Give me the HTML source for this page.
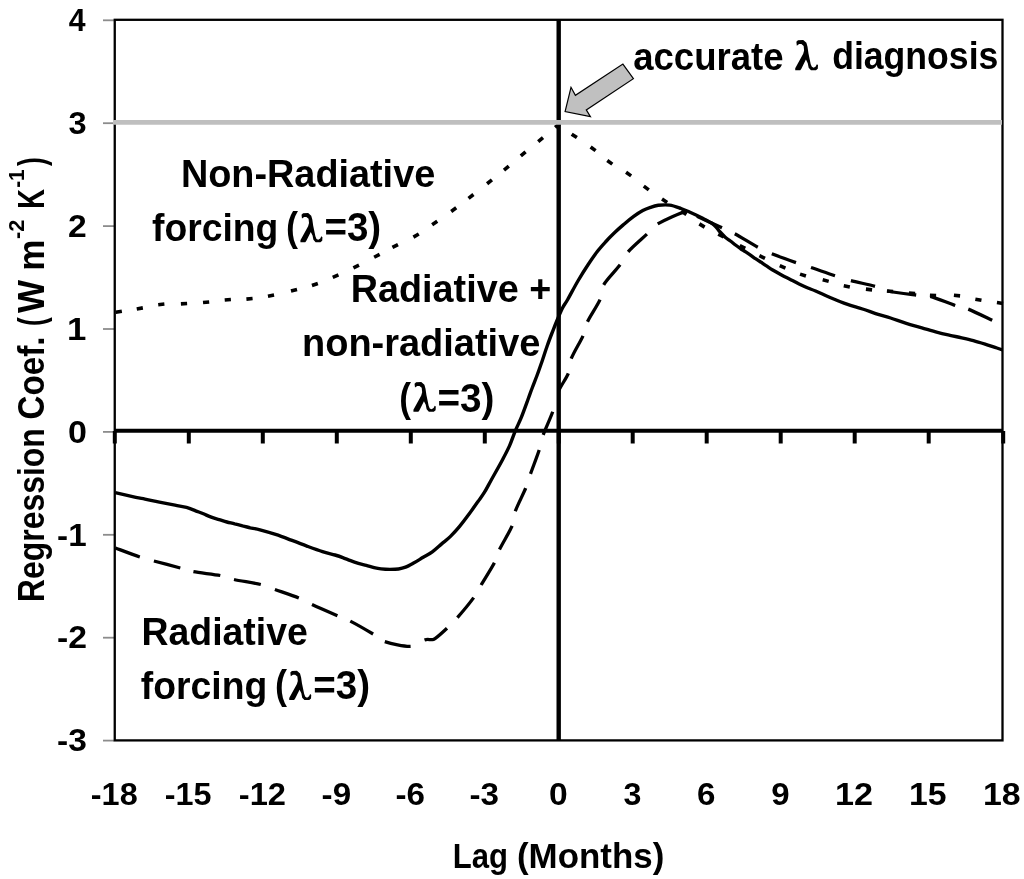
<!DOCTYPE html><html><head><meta charset="utf-8"><style>html,body{margin:0;padding:0;background:#fff;}svg{display:block;will-change:transform;}text{font-family:"Liberation Sans",sans-serif;font-weight:bold;fill:#000;font-kerning:none;font-variant-ligatures:none;}.sym{font-family:"Liberation Serif",serif;font-weight:normal;}</style></head><body>
<svg width="1024" height="879" viewBox="0 0 1024 879">
<rect x="0" y="0" width="1024" height="879" fill="#fff"/>
<defs><path id="lam" d="M1.63,-24.30 L1.17,-28.17 L2.77,-29.77 L8.00,-29.99 L11.19,-27.26 L12.32,-23.17 L13.23,-16.79 L14.37,-11.33 L15.51,-5.87 L16.65,-3.14 L18.47,-2.23 L20.52,-3.59 L21.65,-5.87 L22.79,-4.96 L22.57,-1.32 L20.74,0.28 L15.74,0.28 L13.46,-2.23 L12.55,-6.78 L10.73,-10.42 L6.18,-1.32 L5.04,0.28 L0.03,0.28 L0.03,-1.77 L8.00,-16.34 L8.91,-19.52 L8.45,-24.08 L6.18,-25.90 L3.90,-25.90 Z" fill="#000"/></defs>
<line x1="103" y1="740.6" x2="114" y2="740.6" stroke="#8c8c8c" stroke-width="1.8"/>
<line x1="103" y1="637.7" x2="114" y2="637.7" stroke="#8c8c8c" stroke-width="1.8"/>
<line x1="103" y1="534.8" x2="114" y2="534.8" stroke="#8c8c8c" stroke-width="1.8"/>
<line x1="103" y1="431.9" x2="114" y2="431.9" stroke="#8c8c8c" stroke-width="1.8"/>
<line x1="103" y1="329.0" x2="114" y2="329.0" stroke="#8c8c8c" stroke-width="1.8"/>
<line x1="103" y1="226.1" x2="114" y2="226.1" stroke="#8c8c8c" stroke-width="1.8"/>
<line x1="103" y1="123.2" x2="114" y2="123.2" stroke="#8c8c8c" stroke-width="1.8"/>
<line x1="103" y1="20.3" x2="114" y2="20.3" stroke="#8c8c8c" stroke-width="1.8"/>
<rect x="114.75" y="19.8" width="887.75" height="720.6" fill="none" stroke="#000" stroke-width="2.3"/>
<line x1="114" y1="430.8" x2="1003" y2="430.8" stroke="#000" stroke-width="4"/>
<line x1="558.7" y1="19" x2="558.7" y2="741" stroke="#000" stroke-width="4.4"/>
<line x1="114.8" y1="431" x2="114.8" y2="443.5" stroke="#000" stroke-width="4"/>
<line x1="188.8" y1="431" x2="188.8" y2="443.5" stroke="#000" stroke-width="4"/>
<line x1="262.8" y1="431" x2="262.8" y2="443.5" stroke="#000" stroke-width="4"/>
<line x1="336.8" y1="431" x2="336.8" y2="443.5" stroke="#000" stroke-width="4"/>
<line x1="410.8" y1="431" x2="410.8" y2="443.5" stroke="#000" stroke-width="4"/>
<line x1="484.8" y1="431" x2="484.8" y2="443.5" stroke="#000" stroke-width="4"/>
<line x1="558.8" y1="431" x2="558.8" y2="443.5" stroke="#000" stroke-width="4"/>
<line x1="632.7" y1="431" x2="632.7" y2="443.5" stroke="#000" stroke-width="4"/>
<line x1="706.7" y1="431" x2="706.7" y2="443.5" stroke="#000" stroke-width="4"/>
<line x1="780.7" y1="431" x2="780.7" y2="443.5" stroke="#000" stroke-width="4"/>
<line x1="854.7" y1="431" x2="854.7" y2="443.5" stroke="#000" stroke-width="4"/>
<line x1="928.7" y1="431" x2="928.7" y2="443.5" stroke="#000" stroke-width="4"/>
<line x1="1003.2" y1="431" x2="1003.2" y2="443.5" stroke="#000" stroke-width="4"/>
<path d="M115.74,312.30 L121.86,311.30 M136.75,308.93 L142.85,307.87 M158.22,304.73 L164.38,304.07 M180.90,303.85 L187.10,303.55 M203.01,302.58 L209.19,302.02 M224.71,299.95 L230.89,299.45 M246.41,299.09 L252.59,298.51 M267.96,296.19 L274.04,295.01 M290.99,290.96 L297.01,289.44 M311.96,285.50 L317.84,283.50 M332.76,277.33 L338.44,274.87 M353.42,267.97 L358.98,265.23 M374.16,257.25 L379.64,254.35 M392.44,247.42 L397.96,244.58 M413.42,237.16 L418.78,234.04 M432.15,224.76 L437.25,221.24 M451.20,211.43 L456.20,207.77 M468.55,198.30 L473.45,194.50 M487.08,183.73 L491.92,179.87 M504.01,170.18 L508.79,166.22 M520.82,155.89 L525.58,151.91 M538.21,141.58 L542.99,137.62 M555.12,127.49 L559.88,123.51 M571.71,134.20 L576.89,137.60 M590.61,146.95 L595.59,150.65 M607.28,160.50 L612.32,164.10 M626.07,172.32 L631.13,175.88 M643.81,186.15 L648.79,189.85 M662.01,199.09 L667.19,202.51 M681.21,211.09 L686.39,214.51 M699.35,223.89 L704.65,227.11 M718.26,234.05 L723.74,236.95 M739.75,245.56 L745.25,248.44 M759.42,255.73 L764.98,258.47 M779.76,265.55 L785.44,268.05 M800.05,274.15 L805.95,276.05 M822.70,279.83 L828.70,281.37 M843.76,285.68 L849.84,286.92 M865.92,289.15 L872.08,289.85 M886.91,290.93 L893.09,291.47 M908.91,293.00 L915.09,293.60 M929.90,295.24 L936.10,295.56 M953.91,295.30 L960.09,295.90 M975.34,299.27 L981.46,300.33 M996.93,302.55 L1003.07,303.45" fill="none" stroke="#000" stroke-width="3.6"/>
<path d="M115.40,548.00 C119.47,549.50 133.38,554.83 139.80,557.00 M153.90,561.00 C160.65,562.83 173.72,566.22 180.30,568.00 M193.40,571.70 C200.07,572.95 213.53,574.20 220.30,575.50 M234.00,579.50 C240.75,581.00 253.98,582.83 260.80,584.50 M274.90,589.50 C281.23,591.75 292.62,595.50 298.80,598.00 M312.00,604.50 C318.43,607.45 331.02,612.93 337.40,615.70 M350.30,621.10 C356.25,624.15 367.35,630.58 373.10,634.00 M384.80,641.60 C391.05,643.65 403.98,646.57 410.60,646.30 M424.50,640.00 C427.90,638.88 429.25,639.83 431.00,639.60 M431.00,639.60 C432.75,639.37 432.33,640.50 435.00,638.60 M435.00,638.60 C437.67,636.70 443.27,631.70 447.00,628.20 M457.40,617.60 C461.85,612.50 469.75,603.03 473.70,597.60 M481.10,585.00 C484.55,579.20 491.33,568.72 494.40,562.80 M499.50,549.50 C502.45,543.35 509.47,532.28 512.10,525.90 M515.30,511.20 C517.57,504.92 523.17,494.42 525.70,488.20 M530.50,473.90 C532.75,467.53 537.08,456.50 539.20,450.00 M543.20,434.90 C545.45,428.53 550.13,419.08 552.70,411.80 M558.60,391.20 C561.20,384.80 566.20,378.82 568.30,373.40 M571.20,358.70 C573.65,352.43 580.28,341.97 583.00,335.80 M587.50,321.70 C590.33,315.67 597.30,305.75 600.00,299.60 M603.70,284.80 C607.05,279.00 616.03,270.30 620.10,264.80 M628.10,251.80 C632.57,246.68 641.97,238.75 646.90,234.10 M657.70,223.90 C664.33,220.12 680.15,212.67 686.70,211.40 M697.00,216.30 C702.88,219.03 715.70,224.90 722.00,227.80 M734.80,233.70 C740.77,236.93 751.63,243.85 757.80,247.20 M771.80,253.80 C778.17,256.37 789.47,260.32 796.00,262.60 M811.00,267.50 C817.50,269.68 828.35,273.52 835.00,275.70 M850.90,280.60 C857.57,282.37 868.93,284.57 875.00,286.30 M887.30,291.00 C894.17,292.45 909.03,294.12 916.20,295.00 M930.30,296.30 C936.80,298.05 948.87,303.37 955.20,305.50 M968.30,309.10 C974.47,311.57 988.22,318.43 992.20,320.30" fill="none" stroke="#000" stroke-width="3.3"/>
<path d="M115.2,492.6 C118.6,493.4 130.8,496.2 135.8,497.3 C140.8,498.4 141.1,498.3 145.0,499.1 C148.9,499.9 154.4,501.2 159.4,502.2 C164.4,503.2 170.5,504.3 175.0,505.2 C179.5,506.1 183.1,506.5 186.5,507.4 C189.9,508.3 192.8,509.7 195.6,510.8 C198.4,511.9 200.8,512.7 203.4,513.8 C206.0,514.9 208.7,516.2 211.3,517.2 C213.9,518.2 216.5,518.8 219.1,519.6 C221.7,520.4 224.3,521.3 226.9,522.0 C229.5,522.7 232.1,523.2 234.7,523.9 C237.3,524.5 239.9,525.2 242.5,525.9 C245.1,526.5 247.4,527.1 250.3,527.8 C253.2,528.4 255.8,528.7 260.0,529.8 C264.2,530.9 270.4,532.7 275.6,534.4 C280.8,536.1 286.1,538.2 291.3,540.2 C296.5,542.2 301.7,544.2 306.9,546.1 C312.1,548.0 317.8,550.1 322.5,551.6 C327.2,553.1 331.6,554.0 335.0,555.0 C338.4,556.0 340.2,556.6 342.8,557.6 C345.4,558.6 348.0,559.7 350.6,560.7 C353.2,561.7 355.8,562.6 358.4,563.4 C361.0,564.2 363.7,564.7 366.3,565.4 C368.9,566.1 371.7,567.0 374.1,567.6 C376.6,568.2 378.4,568.6 381.0,568.9 C383.6,569.2 387.1,569.4 390.0,569.4 C392.9,569.4 395.9,569.4 398.5,569.0 C401.1,568.6 402.9,568.2 405.5,567.2 C408.1,566.2 411.2,564.4 414.1,562.8 C417.1,561.1 420.2,559.1 423.2,557.3 C426.2,555.5 429.3,554.1 432.3,551.9 C435.3,549.7 438.4,546.7 441.4,544.1 C444.4,541.5 447.5,539.4 450.5,536.4 C453.5,533.4 456.6,530.0 459.6,526.4 C462.6,522.8 465.7,518.7 468.7,514.6 C471.7,510.5 475.2,505.5 477.8,501.8 C480.4,498.1 481.9,496.4 484.2,492.7 C486.5,489.0 488.3,485.3 491.4,479.7 C494.5,474.1 499.8,464.9 502.8,459.2 C505.8,453.5 507.5,450.3 509.6,445.6 C511.7,440.9 513.4,435.4 515.3,430.8 C517.2,426.2 518.9,423.3 521.0,418.2 C523.1,413.1 526.1,404.7 527.8,400.0 C529.5,395.3 529.9,394.1 531.4,390.0 C532.9,385.9 535.1,380.5 537.0,375.5 C538.9,370.5 540.8,364.8 542.5,360.0 C544.2,355.2 545.4,351.0 547.0,346.5 C548.6,342.0 550.3,337.3 552.0,333.0 C553.7,328.7 555.2,324.7 557.0,320.5 C558.8,316.3 560.7,311.5 562.5,308.0 C564.3,304.5 565.1,304.1 567.7,299.5 C570.3,294.9 574.8,286.3 578.2,280.5 C581.6,274.7 585.0,269.3 588.2,264.5 C591.4,259.7 594.3,255.4 597.3,251.5 C600.3,247.6 603.4,244.3 606.4,241.0 C609.4,237.7 612.5,234.7 615.5,231.8 C618.5,228.9 621.6,226.3 624.6,223.7 C627.6,221.1 630.7,218.6 633.7,216.4 C636.7,214.2 640.0,212.0 642.8,210.5 C645.6,209.0 647.9,208.2 650.5,207.3 C653.1,206.4 655.1,205.7 658.3,205.3 C661.5,204.9 665.8,204.6 669.6,205.1 C673.4,205.6 677.6,207.3 681.0,208.5 C684.4,209.7 686.4,210.7 690.0,212.3 C693.6,213.9 699.1,216.5 702.7,218.3 C706.3,220.1 709.2,221.5 711.5,223.0 C713.8,224.5 715.1,226.0 716.5,227.5 C717.9,229.0 718.6,230.4 720.1,232.0 C721.6,233.6 723.5,235.7 725.2,237.2 C726.9,238.7 728.7,239.7 730.4,241.0 C732.1,242.3 733.8,243.7 735.5,245.0 C737.2,246.3 738.9,247.5 740.6,248.7 C742.3,249.8 744.0,250.8 745.7,251.9 C747.4,253.0 749.1,254.1 750.8,255.3 C752.5,256.5 754.2,257.8 755.9,258.9 C757.6,260.0 759.3,261.1 761.0,262.2 C762.7,263.3 764.0,264.3 766.0,265.6 C768.0,266.9 770.1,268.4 772.7,270.0 C775.3,271.6 778.6,273.4 781.5,275.0 C784.4,276.6 787.4,278.0 790.3,279.5 C793.2,281.0 796.2,282.6 799.1,284.0 C802.0,285.4 805.1,286.8 807.9,288.0 C810.6,289.2 811.7,289.3 815.6,291.0 C819.5,292.7 826.1,295.8 831.3,298.0 C836.5,300.2 841.7,302.4 846.9,304.2 C852.1,306.0 857.3,307.3 862.5,309.0 C867.7,310.7 873.4,312.9 878.1,314.4 C882.8,315.9 885.9,316.5 890.6,318.0 C895.3,319.5 901.1,321.8 906.3,323.4 C911.5,325.0 916.7,326.3 921.9,327.8 C927.1,329.3 932.8,331.1 937.5,332.3 C942.2,333.6 946.0,334.4 950.0,335.3 C954.0,336.2 957.8,336.9 961.7,337.8 C965.6,338.7 969.5,339.6 973.4,340.6 C977.3,341.7 981.2,342.9 985.1,344.1 C989.0,345.3 994.0,347.1 996.9,348.0 C999.8,348.9 1001.6,349.5 1002.5,349.8" fill="none" stroke="#000" stroke-width="3.4"/>
<line x1="113" y1="122.3" x2="1002" y2="122.3" stroke="#bfbfbf" stroke-width="4.8"/>
<polygon points="622.9,64.1 633.4,78.7 586.3,109.9 590.4,116.6 565.1,111.6 571,87.3 575.4,95.3" fill="#c0c0c0" stroke="#000" stroke-width="1.2" stroke-linejoin="miter"/>
<text x="57.09" y="751.30" font-size="31.00" textLength="29.82" lengthAdjust="spacingAndGlyphs">-3</text>
<text x="57.08" y="648.40" font-size="31.00" textLength="29.97" lengthAdjust="spacingAndGlyphs">-2</text>
<text x="57.10" y="545.50" font-size="31.00" textLength="29.52" lengthAdjust="spacingAndGlyphs">-1</text>
<text x="67.95" y="442.60" font-size="31.00" textLength="18.94" lengthAdjust="spacingAndGlyphs">0</text>
<text x="67.11" y="339.70" font-size="31.00" textLength="19.36" lengthAdjust="spacingAndGlyphs">1</text>
<text x="68.13" y="236.80" font-size="31.00" textLength="18.71" lengthAdjust="spacingAndGlyphs">2</text>
<text x="68.55" y="133.90" font-size="31.00" textLength="18.13" lengthAdjust="spacingAndGlyphs">3</text>
<text x="68.84" y="31.00" font-size="31.00" textLength="16.82" lengthAdjust="spacingAndGlyphs">4</text>
<text x="90.83" y="804.60" font-size="31.00" textLength="46.86" lengthAdjust="spacingAndGlyphs">-18</text>
<text x="164.83" y="804.60" font-size="31.00" textLength="46.76" lengthAdjust="spacingAndGlyphs">-15</text>
<text x="238.81" y="804.60" font-size="31.00" textLength="47.18" lengthAdjust="spacingAndGlyphs">-12</text>
<text x="321.58" y="804.60" font-size="31.00" textLength="29.53" lengthAdjust="spacingAndGlyphs">-9</text>
<text x="395.57" y="804.60" font-size="31.00" textLength="29.49" lengthAdjust="spacingAndGlyphs">-6</text>
<text x="469.56" y="804.60" font-size="31.00" textLength="29.49" lengthAdjust="spacingAndGlyphs">-3</text>
<text x="549.02" y="804.60" font-size="31.00" textLength="18.71" lengthAdjust="spacingAndGlyphs">0</text>
<text x="623.61" y="804.60" font-size="31.00" textLength="17.90" lengthAdjust="spacingAndGlyphs">3</text>
<text x="697.12" y="804.60" font-size="31.00" textLength="18.41" lengthAdjust="spacingAndGlyphs">6</text>
<text x="771.18" y="804.60" font-size="31.00" textLength="18.37" lengthAdjust="spacingAndGlyphs">9</text>
<text x="834.92" y="804.60" font-size="31.00" textLength="38.02" lengthAdjust="spacingAndGlyphs">12</text>
<text x="908.93" y="804.60" font-size="31.00" textLength="37.57" lengthAdjust="spacingAndGlyphs">15</text>
<text x="982.92" y="804.60" font-size="31.00" textLength="37.68" lengthAdjust="spacingAndGlyphs">18</text>
<text x="452.72" y="868.30" font-size="35.50" textLength="55.26" lengthAdjust="spacingAndGlyphs">Lag</text>
<text x="516.96" y="868.30" font-size="35.50" textLength="147.38" lengthAdjust="spacingAndGlyphs">(Months)</text>
<g transform="translate(44.30,600) rotate(-90)">
<text x="-2.14" y="0.00" font-size="36.00" textLength="174.02" lengthAdjust="spacingAndGlyphs">Regression</text>
<text x="180.44" y="0.00" font-size="36.00" textLength="83.05" lengthAdjust="spacingAndGlyphs">Coef.</text>
<text x="273.89" y="0.00" font-size="36.00" textLength="8.73" lengthAdjust="spacingAndGlyphs">(</text>
<text x="287.07" y="0.00" font-size="36.00" textLength="33.17" lengthAdjust="spacingAndGlyphs">W</text>
<text x="329.18" y="0.00" font-size="36.00" textLength="31.30" lengthAdjust="spacingAndGlyphs">m</text>
<text x="391.28" y="0.00" font-size="36.00" textLength="19.68" lengthAdjust="spacingAndGlyphs">K</text>
<text x="434.07" y="0.00" font-size="36.00" textLength="8.73" lengthAdjust="spacingAndGlyphs">)</text>
<text x="360.95" y="-20.40" font-size="22.40" textLength="19.32" lengthAdjust="spacingAndGlyphs">-2</text>
<text x="412.19" y="-20.40" font-size="22.40" textLength="18.49" lengthAdjust="spacingAndGlyphs">-1</text>
</g>
<text x="633.23" y="69.60" font-size="39.00" textLength="150.22" lengthAdjust="spacingAndGlyphs">accurate</text>
<use href="#lam" transform="translate(795.20,70.00) scale(1.000)"/>
<text x="832.14" y="69.20" font-size="39.00" textLength="166.22" lengthAdjust="spacingAndGlyphs">diagnosis</text>
<text x="180.97" y="186.80" font-size="39.00" textLength="254.22" lengthAdjust="spacingAndGlyphs">Non-Radiative</text>
<text x="152.06" y="240.80" font-size="39.00" textLength="126.33" lengthAdjust="spacingAndGlyphs">forcing</text>
<text x="286.10" y="241.30" font-size="40.00" textLength="12.04" lengthAdjust="spacingAndGlyphs">(</text>
<use href="#lam" transform="translate(300.40,242.00) scale(0.967)"/>
<text x="324.40" y="241.30" font-size="40.00" textLength="56.82" lengthAdjust="spacingAndGlyphs">=3)</text>
<text x="350.77" y="301.60" font-size="39.00" textLength="200.46" lengthAdjust="spacingAndGlyphs">Radiative +</text>
<text x="302.00" y="356.20" font-size="39.00" textLength="238.40" lengthAdjust="spacingAndGlyphs">non-radiative</text>
<text x="399.34" y="411.70" font-size="40.00" textLength="11.80" lengthAdjust="spacingAndGlyphs">(</text>
<use href="#lam" transform="translate(413.40,411.50) scale(0.983)"/>
<text x="437.39" y="411.70" font-size="40.00" textLength="57.04" lengthAdjust="spacingAndGlyphs">=3)</text>
<text x="141.50" y="645.20" font-size="39.00" textLength="166.28" lengthAdjust="spacingAndGlyphs">Radiative</text>
<text x="140.86" y="698.60" font-size="39.00" textLength="126.33" lengthAdjust="spacingAndGlyphs">forcing</text>
<text x="274.90" y="699.10" font-size="40.00" textLength="12.04" lengthAdjust="spacingAndGlyphs">(</text>
<use href="#lam" transform="translate(289.20,699.80) scale(0.967)"/>
<text x="313.20" y="699.10" font-size="40.00" textLength="56.82" lengthAdjust="spacingAndGlyphs">=3)</text>
</svg></body></html>
